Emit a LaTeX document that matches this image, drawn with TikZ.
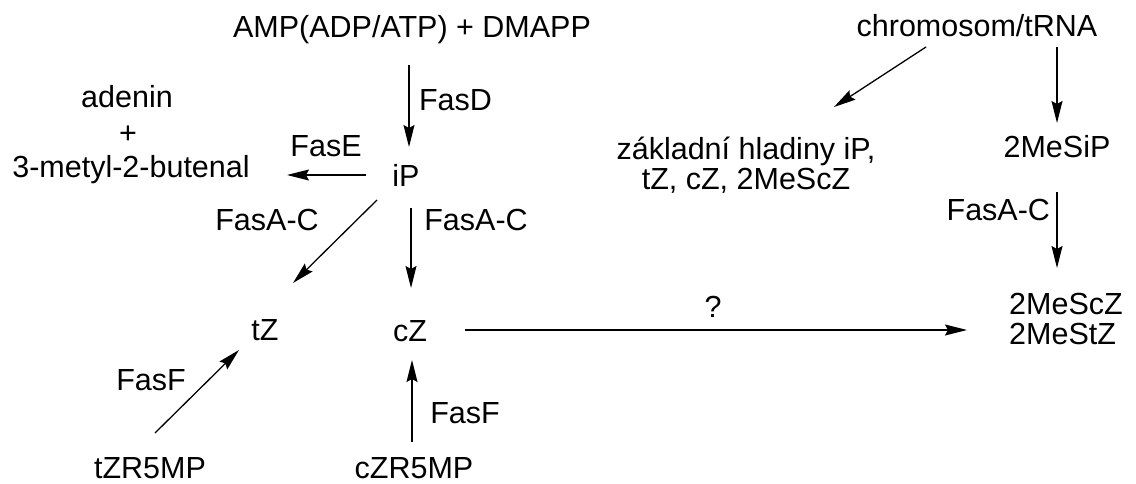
\documentclass[tikz,border=0pt]{standalone}
\usepackage{fontspec}
\setmainfont{Liberation Sans}
\usetikzlibrary{arrows.meta,calc}
\begin{document}
\begin{tikzpicture}[x=1pt,y=-1pt,
  lbl/.style={inner sep=0pt, outer sep=0pt, font=\fontsize{30.5}{30}\selectfont},
  arr/.style={line width=1.3pt, -{Stealth[length=22pt,width=11pt,inset=3pt]}}]
\useasboundingbox[fill=white] (0,0) rectangle (1136,484);

% compounds and enzyme labels
\node[lbl,anchor=base] (amp) at (412,38) {AMP(ADP/ATP) + DMAPP};
\node[lbl,anchor=base] (chrom) at (977,37) {chromosom/tRNA};
\node[lbl,anchor=base west] (fasd) at (419,111) {FasD};
\node[lbl,anchor=base] (ade) at (127,108) {adenin};
\node[lbl,anchor=base] (plus) at (128,144) {+};
\node[lbl,anchor=base] (but) at (131,178) {3-metyl-2-butenal};
\node[lbl,anchor=base] (fase) at (326,157) {FasE};
\node[lbl,anchor=base] (ip) at (406,187) {iP};
\node[lbl,anchor=base] (fasac1) at (267,230) {FasA-C};
\node[lbl,anchor=base] (fasac2) at (476,230) {FasA-C};
\node[lbl,anchor=base] (tz) at (265,340) {tZ};
\node[lbl,anchor=base] (cz) at (410,341) {cZ};
\node[lbl,anchor=base] (q) at (713,317) {?};
\node[lbl,align=left] (mesc) at (1066,319) {2MeScZ\\2MeStZ};
\node[lbl,align=center] (zakl) at (746,165) {základní hladiny iP,\\tZ, cZ, 2MeScZ};
\node[lbl,anchor=base] (mesip) at (1057,158) {2MeSiP};
\node[lbl,anchor=base east] (fasac3) at (1050,220) {FasA-C};
\node[lbl,anchor=base] (fasf1) at (151,390) {FasF};
\node[lbl,anchor=base] (fasf2) at (465,423) {FasF};
\node[lbl,anchor=base] (tzr) at (150,478) {tZR5MP};
\node[lbl,anchor=base] (czr) at (414,478) {cZR5MP};

% reactions
\draw[arr] ($(amp.base)+(-3,27)$) -- ($(ip.base)+(3,-40)$);
\draw[arr] ($(ip.base)+(-40,-12)$) -- ($(but.base)+(156,-3)$);
\draw[arr] ($(ip.base)+(-29,13)$) -- ($(tz.base)+(28,-57)$);
\draw[arr] ($(ip.base)+(5,21)$) -- ($(cz.base)+(1,-53)$);
\draw[arr] ($(cz.base)+(55,-11)$) -- ($(mesc.center)+(-99,11)$);
\draw[arr] ($(tzr.base)+(5,-45)$) -- ($(tz.base)+(-26,10)$);
\draw[arr] ($(czr.base)+(-2,-36)$) -- ($(cz.base)+(2,19)$);
\draw[arr] ($(chrom.base)+(-51,10)$) -- ($(zakl.center)+(88,-58)$);
\draw[arr] ($(chrom.base)+(80,10)$) -- ($(mesip.base)+(0,-35)$);
\draw[arr] ($(mesip.base)+(0,34)$) -- ($(mesc.center)+(-9,-51)$);
\end{tikzpicture}
\end{document}
